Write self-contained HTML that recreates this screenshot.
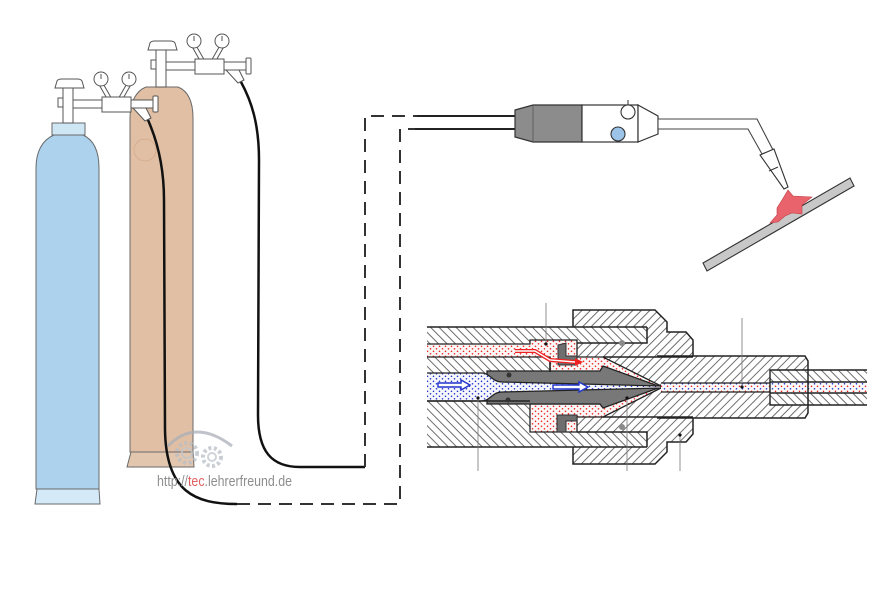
<!DOCTYPE html>
<html><head><meta charset="utf-8"><style>
html,body{margin:0;padding:0;background:#fff;}
svg{display:block;}
</style></head><body>
<svg width="880" height="594" viewBox="0 0 880 594" xmlns="http://www.w3.org/2000/svg">
<defs>
<pattern id="hs" patternUnits="userSpaceOnUse" width="6" height="6" patternTransform="rotate(45)"><rect width="6" height="6" fill="#fff"/><line x1="1" y1="0" x2="1" y2="6" stroke="#4a4a4a" stroke-width="0.8"/></pattern>
<pattern id="hb" patternUnits="userSpaceOnUse" width="6" height="6" patternTransform="rotate(-45)"><rect width="6" height="6" fill="#fff"/><line x1="1" y1="0" x2="1" y2="6" stroke="#4a4a4a" stroke-width="0.8"/></pattern>
<pattern id="dr" patternUnits="userSpaceOnUse" width="6" height="5"><rect width="6" height="5" fill="#fbf7f7"/><circle cx="1.5" cy="1.3" r="0.8" fill="#e22"/><circle cx="4.5" cy="3.8" r="0.8" fill="#e22"/></pattern>
<pattern id="db" patternUnits="userSpaceOnUse" width="6" height="5"><rect width="6" height="5" fill="#f6f7fc"/><circle cx="1.5" cy="1.3" r="0.8" fill="#23c"/><circle cx="4.5" cy="3.8" r="0.8" fill="#23c"/></pattern>
<pattern id="dm" patternUnits="userSpaceOnUse" width="6" height="5"><rect width="6" height="5" fill="#fafafa"/><circle cx="1.5" cy="1.3" r="0.8" fill="#e22"/><circle cx="4.5" cy="3.8" r="0.8" fill="#23c"/></pattern>
</defs>

<!-- Brown cylinder -->
<path d="M146,87 L178,87 C188,91 193,102 193,118 L193,452 L130,452 L130,118 C130,102 136,91 146,87 Z" fill="#e0bfa4" stroke="#6a6a6a" stroke-width="1"/>
<polygon points="131,452 193,452 194,467 127,467" fill="#e3c6ae" stroke="#6a6a6a" stroke-width="1"/>
<circle cx="145" cy="150" r="11" fill="none" stroke="#d6a888" stroke-width="0.7"/>

<!-- Blue cylinder -->
<path d="M54,135 C42,140 36,152 36,168 L36,489 L99,489 L99,168 C99,152 94,140 83,135 Z" fill="#acd2ee" stroke="#6a6a6a" stroke-width="1"/>
<rect x="52" y="123" width="33" height="12" fill="#cfe6f5" stroke="#6a6a6a" stroke-width="1"/>
<polygon points="37,489 99,489 100,504 35,504" fill="#d4eaf8" stroke="#6a6a6a" stroke-width="1"/>

<!-- Valve brown cylinder -->
<g transform="translate(93,-38)" fill="#fff" stroke="#555" stroke-width="1">
 <line x1="101" y1="84" x2="109" y2="98" stroke="#555" stroke-width="5"/>
 <line x1="101" y1="84" x2="109" y2="98" stroke="#fff" stroke-width="3"/>
 <line x1="129" y1="84" x2="121" y2="98" stroke="#555" stroke-width="5"/>
 <line x1="129" y1="84" x2="121" y2="98" stroke="#fff" stroke-width="3"/>
 <circle cx="101" cy="79" r="7"/><line x1="101" y1="79" x2="101" y2="74"/>
 <circle cx="129" cy="79" r="7"/><line x1="129" y1="79" x2="129" y2="74"/>
 <path d="M55,88 L57,81 Q58,79 62,79 L77,79 Q81,79 82,81 L84,88 Z"/>
 <rect x="63" y="88" width="10" height="37"/>
 <rect x="58" y="98" width="5" height="9"/>
 <rect x="73" y="100" width="30" height="8"/>
 <rect x="130" y="100" width="23" height="8"/>
 <polygon points="133,108 146,108 151,118 145,121"/>
 <rect x="102" y="97" width="29" height="15"/>
 <rect x="153" y="96" width="5" height="16" rx="1"/>
</g>

<!-- Hose 2 -->
<path d="M241,82 C252,102 259,125 259,160 L258,415 C258,452 272,467 300,467 L365,467" fill="none" stroke="#111" stroke-width="2.5"/>

<!-- Valve blue cylinder -->
<g fill="#fff" stroke="#555" stroke-width="1">
 <line x1="101" y1="84" x2="109" y2="98" stroke="#555" stroke-width="5"/>
 <line x1="101" y1="84" x2="109" y2="98" stroke="#fff" stroke-width="3"/>
 <line x1="129" y1="84" x2="121" y2="98" stroke="#555" stroke-width="5"/>
 <line x1="129" y1="84" x2="121" y2="98" stroke="#fff" stroke-width="3"/>
 <circle cx="101" cy="79" r="7"/><line x1="101" y1="79" x2="101" y2="74"/>
 <circle cx="129" cy="79" r="7"/><line x1="129" y1="79" x2="129" y2="74"/>
 <path d="M55,88 L57,81 Q58,79 62,79 L77,79 Q81,79 82,81 L84,88 Z"/>
 <rect x="63" y="88" width="10" height="35"/>
 <rect x="58" y="98" width="5" height="9"/>
 <rect x="73" y="100" width="30" height="8"/>
 <rect x="130" y="100" width="23" height="8"/>
 <polygon points="133,108 146,108 151,118 145,121"/>
 <rect x="102" y="97" width="29" height="15"/>
 <rect x="153" y="96" width="5" height="16" rx="1"/>
</g>

<!-- Hose 1 -->
<path d="M148,120 C156,138 164,165 164,200 L165,430 C166,492 195,504 237,504" fill="none" stroke="#111" stroke-width="2.5"/>

<!-- Dashed connections -->
<path d="M365,467 L365,116 L417,116" fill="none" stroke="#333" stroke-width="2" stroke-dasharray="13 8"/>
<path d="M237,504 L400,504 L400,129 L415,129" fill="none" stroke="#333" stroke-width="2" stroke-dasharray="13 8"/>
<line x1="417" y1="116" x2="516" y2="116" stroke="#222" stroke-width="2"/>
<line x1="415" y1="129" x2="516" y2="129" stroke="#222" stroke-width="2"/>

<!-- Torch -->
<polygon points="515,110 533,105 582,105 582,142 533,142 515,137" fill="#8c8c8c" stroke="#333" stroke-width="1.2"/>
<line x1="533" y1="105" x2="533" y2="142" stroke="#555" stroke-width="0.8"/>
<rect x="582" y="105" width="56" height="37" fill="#fff" stroke="#333" stroke-width="1.2"/>
<polygon points="638,105 658,116 658,134 638,142" fill="#fff" stroke="#333" stroke-width="1.2"/>
<line x1="628" y1="100" x2="628" y2="105" stroke="#333" stroke-width="1"/>
<circle cx="628" cy="112" r="7" fill="#fff" stroke="#333" stroke-width="1.1"/>
<circle cx="618" cy="134" r="7" fill="#9cc3e8" stroke="#333" stroke-width="1.1"/>
<polygon points="658,119 757,119 773,150 762,154 748,129 658,129" fill="#fff" stroke="#444" stroke-width="1.1"/>
<polygon points="760,155 774,149 788,187 784,189" fill="#fff" stroke="#333" stroke-width="1.1"/>
<line x1="769" y1="171" x2="778" y2="167" stroke="#333" stroke-width="1"/>
<polygon points="703,263 850,178 854,186 707,271" fill="#c8c8c8" stroke="#333" stroke-width="1.1"/>
<polygon points="788,190 793,196 812,197 802,205 802,214 792,213 785,216 778,222 770,223 777,215 777,208 782,200" fill="#e8636b" stroke="#c04048" stroke-width="0.6"/>

<!-- Cross-section -->
<path d="M573,310 L655,310 L667,322 L667,332 L686,332 L693,340 L693,356 L805,356 L808,361 L808,413 L805,418 L693,418 L693,434 L686,442 L667,442 L667,452 L655,464 L573,464 Z" fill="url(#hs)"/>
<path d="M427,327 L647,327 L647,343 L577,343 L577,432 L647,432 L647,447 L427,447 Z" fill="url(#hb)"/>
<path d="M427,344 L530,344 L530,340 L577,340 L577,357 L603,357 L661,386 L645,386 L600,372 L550,372 L550,357 L427,357" fill="url(#dr)" stroke="#222" stroke-width="1.3"/>
<path d="M530,404 L600,404 L645,388 L661,388 L603,417 L577,417 L577,432 L530,432 Z" fill="url(#dr)" stroke="#222" stroke-width="1.3"/>
<path d="M487,371 L600,371 L603,366 L661,387 L603,408 L600,404 L487,404 Z" fill="#787878" stroke="#222" stroke-width="1.3"/>
<path d="M558,345 L566,343 L566,356 L577,356 L577,365 L558,365 Z" fill="#6e6e6e" stroke="#333" stroke-width="1"/>
<path d="M557,415 L577,415 L577,421 L566,421 L566,432 L557,432 Z" fill="#6e6e6e" stroke="#333" stroke-width="1"/>
<path d="M427,373 L482,373 C490,373 492,382 502,382 L661,386 L661,388 L502,392 C492,392 490,401 482,401 L427,401" fill="url(#db)" stroke="#222" stroke-width="1.3"/>
<rect x="661" y="383" width="109" height="9" fill="url(#dm)"/>
<line x1="661" y1="383" x2="770" y2="383" stroke="#222" stroke-width="1.3"/>
<line x1="661" y1="392" x2="770" y2="392" stroke="#222" stroke-width="1.3"/>
<rect x="770" y="370" width="97" height="35" fill="url(#hb)"/>
<rect x="770" y="382" width="97" height="11" fill="url(#dm)"/>
<path d="M867,370 L770,370 L770,405 L867,405 M770,382 L867,382 M770,393 L867,393" fill="none" stroke="#222" stroke-width="1.4"/>
<g fill="none" stroke="#222" stroke-width="1.5">
 <path d="M427,327 L647,327 M427,447 L647,447"/>
 <path d="M573,327 L573,310 L655,310 L667,322 L667,332 L686,332 L693,340 L693,356"/>
 <path d="M573,447 L573,464 L655,464 L667,452 L667,442 L686,442 L693,434 L693,418"/>
 <path d="M657,356 L805,356 L808,361 L808,413 L805,418 L657,418"/>
 <path d="M577,343 L647,343 L647,327 M577,432 L647,432 L647,447"/>
 <path d="M603,357 L693,357 M603,417 L693,417"/>
 <path d="M427,401 L530,401 M550,357 L550,372"/>
</g>
<circle cx="622" cy="343" r="3" fill="#8a8a8a"/>
<circle cx="622" cy="427" r="3" fill="#8a8a8a"/>
<circle cx="509" cy="375" r="2.5" fill="#333"/>
<circle cx="508" cy="400" r="2.5" fill="#333"/>
<path d="M515,351 L535,351 L550,360 L575,362" fill="none" stroke="#e22" stroke-width="4"/>
<path d="M515,351 L535,351 L550,360 L575,362" fill="none" stroke="#fff" stroke-width="1.4"/>
<polygon points="575,358 583,362 575,366" fill="#e22"/>
<g fill="#fff" stroke="#23c" stroke-width="1.4">
 <path d="M438,383 L461,383 L461,380 L470,385 L461,390 L461,387 L438,387 Z"/>
 <path d="M553,385 L579,385 L579,382 L588,387 L579,392 L579,389 L553,389 Z"/>
</g>
<g stroke="#777" stroke-width="0.8">
 <line x1="546" y1="303" x2="546" y2="344"/>
 <line x1="742" y1="318" x2="742" y2="387"/>
 <line x1="478" y1="398" x2="478" y2="471"/>
 <line x1="627" y1="398" x2="627" y2="471"/>
 <line x1="680" y1="435" x2="680" y2="471"/>
</g>
<g fill="#111">
 <circle cx="546" cy="344" r="1.6"/>
 <circle cx="742" cy="387" r="1.6"/>
 <circle cx="478" cy="398" r="1.6"/>
 <circle cx="627" cy="398" r="1.6"/>
 <circle cx="680" cy="435" r="1.6"/>
</g>

<!-- Watermark -->
<g opacity="0.75">
 <path d="M168,446 Q195,418 232,446" fill="none" stroke="#aab0b8" stroke-width="3"/>
 <circle cx="187" cy="453" r="10" fill="none" stroke="#b8bec6" stroke-width="4" stroke-dasharray="3 2.5"/>
 <circle cx="187" cy="453" r="5" fill="none" stroke="#c0c6cc" stroke-width="2"/>
 <circle cx="212" cy="457" r="9" fill="none" stroke="#b8bec6" stroke-width="4" stroke-dasharray="3 2.5"/>
 <circle cx="212" cy="457" r="4" fill="none" stroke="#c0c6cc" stroke-width="2"/>
</g>
<text x="157" y="486" font-family="'Liberation Sans Narrow','Liberation Sans',sans-serif" font-size="15" textLength="135" lengthAdjust="spacingAndGlyphs" fill="#8e8e8e">http://<tspan fill="#e06060">tec</tspan>.lehrerfreund.de</text>
</svg>
</body></html>
